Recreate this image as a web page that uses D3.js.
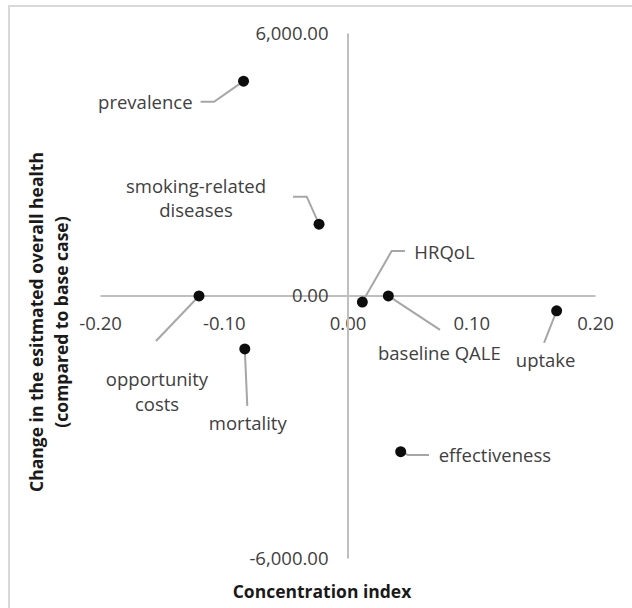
<!DOCTYPE html>
<html>
<head>
<meta charset="utf-8">
<script src="https://cdn.jsdelivr.net/npm/d3@7"></script>
<style>
  body { margin: 0; background: #fff; }
  svg { display: block; font-family: "Open Sans", sans-serif; }
  .axis path { stroke: #bfbfbf; stroke-width: 2; }
  .axis text { font-size: 18.5px; fill: #404040; font-family: "Open Sans", sans-serif; }
  .pointLabel { font-size: 18.5px; fill: #404040; }
  .axisTitle { font-size: 17.5px; font-weight: bold; fill: #1a1a1a; }
</style>
</head>
<body>
<div id="chart"></div>
<script>
var svgWidth = 632;
var svgHeight = 608;

// parameters and their (concentration index, change in overall health)
var labels = ["prevalence", "smoking-related diseases", "opportunity costs", "mortality",
  "HRQoL", "baseline QALE", "uptake", "effectiveness"];
var concIndex = [-0.084, -0.023, -0.12, -0.083, 0.012, 0.033, 0.169, 0.043];
var healthChange = [4900, 1630, -10, -1220, -150, -10, -350, -3570];

var xTicks = [-0.20, -0.10, 0.00, 0.10, 0.20];
var yTicks = [6000, 0, -6000];

// where each data label sits relative to its point (text lines, anchor, leader bends)
var labelLayout = [
  { lines: ["prevalence"], dx: -51, dy: 21, anchor: "end", leader: [[-43, 20.6], [-29.5, 20.6]] },
  { lines: ["smoking-related", "diseases"], dx: -123, dy: -38, anchor: "middle", leader: [[-26, -27.5], [-12.3, -27.5]] },
  { lines: ["opportunity", "costs"], dx: -42, dy: 84, anchor: "middle", leader: [[-43, 45]] },
  { lines: ["mortality"], dx: 3, dy: 75, anchor: "middle", leader: [[2.5, 57]] },
  { lines: ["HRQoL"], dx: 52, dy: -49.4, anchor: "start", leader: [[42.6, -51], [29.3, -51]] },
  { lines: ["baseline QALE"], dx: 51, dy: 58, anchor: "middle", leader: [[51.7, 34]] },
  { lines: ["uptake"], dx: -11, dy: 50, anchor: "middle", leader: [[-12.6, 32]] },
  { lines: ["effectiveness"], dx: 38, dy: 4.3, anchor: "start", leader: [[28.3, 3.3], [7.3, 3.3]] }
];

var svg = d3.select("#chart")
  .append("svg")
  .attr("width", svgWidth)
  .attr("height", svgHeight);

// chart area border (cut off at right and bottom)
svg.append("rect")
  .attr("x", 9)
  .attr("y", 6)
  .attr("width", 700)
  .attr("height", 700)
  .attr("fill", "none")
  .attr("stroke", "#d9d9d9")
  .attr("stroke-width", 2);

var xScale = d3.scaleLinear()
  .domain([-0.2, 0.2])
  .range([100, 595]);

var yScale = d3.scaleLinear()
  .domain([-6000, 6000])
  .range([558, 33]);

var xAxis = d3.axisBottom(xScale)
  .tickValues(xTicks)
  .tickSize(0)
  .tickFormat(d3.format(".2f"));

var yAxis = d3.axisLeft(yScale)
  .tickValues(yTicks)
  .tickSize(0)
  .tickFormat(d3.format(",.2f"));

var xAxisG = svg.append("g")
  .attr("class", "axis")
  .attr("transform", `translate(0, ${yScale(0)})`)
  .call(xAxis);
xAxisG.selectAll("text")
  .attr("y", 28)
  .attr("dy", "0.35em");
xAxisG.selectAll(".tick text").text(d => d3.format(".2f")(d).replace("−", "-"));

var yAxisG = svg.append("g")
  .attr("class", "axis")
  .attr("transform", `translate(${xScale(0)}, 0)`)
  .call(yAxis);
yAxisG.selectAll("text")
  .attr("x", -19)
  .attr("dy", "0.35em");
yAxisG.selectAll(".tick text").text(d => d3.format(",.2f")(d).replace("−", "-"));

// leader lines
var line = d3.line().curve(d3.curveLinear);
svg.selectAll(".leader")
  .data(labels)
  .enter()
  .append("path")
  .attr("class", "leader")
  .attr("fill", "none")
  .attr("stroke", "#a6a6a6")
  .attr("stroke-width", 2)
  .attr("d", function(d, i) {
    var px = xScale(concIndex[i]), py = yScale(healthChange[i]);
    var pts = labelLayout[i].leader.map(p => [px + p[0], py + p[1]]);
    pts.push([px, py]);
    return line(pts);
  });

// points
svg.selectAll("circle")
  .data(labels)
  .enter()
  .append("circle")
  .attr("cx", (d, i) => xScale(concIndex[i]))
  .attr("cy", (d, i) => yScale(healthChange[i]))
  .attr("r", 5.5)
  .attr("fill", "#0d0d0d");

// data labels
labels.forEach(function(name, i) {
  var lay = labelLayout[i];
  var px = xScale(concIndex[i]), py = yScale(healthChange[i]);
  var t = svg.append("text")
    .attr("class", "pointLabel")
    .attr("text-anchor", lay.anchor);
  lay.lines.forEach(function(s, k) {
    t.append("tspan")
      .attr("x", px + lay.dx)
      .attr("y", py + lay.dy + k * 24.7)
      .attr("dy", "0.35em")
      .text(s);
  });
});

// axis titles
svg.append("text")
  .attr("class", "axisTitle")
  .attr("text-anchor", "middle")
  .attr("x", 322)
  .attr("y", 592)
  .attr("dy", "0.35em")
  .text("Concentration index");

var yTitle = svg.append("text")
  .attr("class", "axisTitle")
  .attr("text-anchor", "middle")
  .attr("transform", "translate(0, 322) rotate(-90)");
yTitle.append("tspan")
  .attr("x", 0)
  .attr("y", 37)
  .attr("dy", "0.35em")
  .text("Change in the esitmated overall health");
yTitle.append("tspan")
  .attr("x", 0)
  .attr("y", 62)
  .attr("dy", "0.35em")
  .text("(compared to base case)");
</script>
</body>
</html>
